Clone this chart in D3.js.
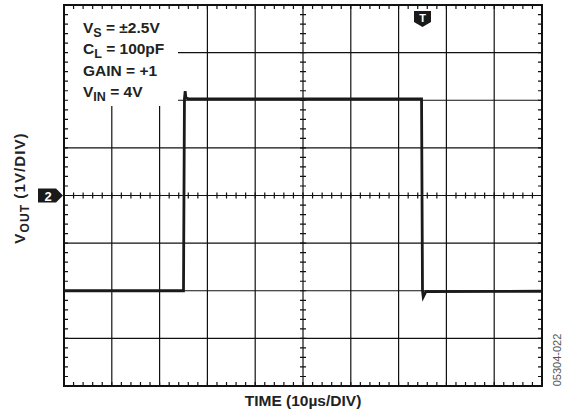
<!DOCTYPE html>
<html>
<head>
<meta charset="utf-8">
<script src="https://cdn.jsdelivr.net/npm/d3@7"></script>
<style>
  body { margin: 0; background: #fff; }
  svg { display: block; font-family: "Liberation Sans", Arial, sans-serif; }
</style>
</head>
<body>
<svg id="chart" width="569" height="414"></svg>
<script>
// scope trace, time in us, output in volts
var timeUs = [0, 25.0, 25.2, 25.35, 25.5, 26.0, 74.8, 75.0, 75.15, 75.7, 100];
var voutV  = [-2.0, -2.0, 2.03, 2.19, 2.05, 2.03, 2.03, -2.0, -2.13, -2.02, -2.01];

var timeDomain = [0, 100];   // 10 divisions of 10us
var voltDomain = [-4, 4];    // 8 divisions of 1V
var triggerTime = 75;

var notes = [
	[ { t: "V" }, { t: "S", sub: true }, { t: " = \u00b12.5V" } ],
	[ { t: "C" }, { t: "L", sub: true }, { t: " = 100pF" } ],
	[ { t: "GAIN = +1" } ],
	[ { t: "V" }, { t: "IN", sub: true }, { t: " = 4V" } ]
];

var svg = d3.select("#chart");
var x = d3.scaleLinear().domain(timeDomain).range([64, 542]);
var y = d3.scaleLinear().domain(voltDomain).range([386, 5]);

var majorX = d3.range(timeDomain[0], timeDomain[1] + 0.01, 10);
var majorY = d3.range(voltDomain[0], voltDomain[1] + 0.01, 1);
var minorX = d3.range(timeDomain[0], timeDomain[1] + 0.01, 2);
var minorY = d3.range(voltDomain[0], voltDomain[1] + 0.01, 0.2);

var grid = svg.append("g").attr("stroke", "#111").attr("stroke-width", 1.2);
grid.selectAll(".vx").data(majorX.slice(1, -1)).enter().append("line")
	.attr("x1", function(d) { return x(d); }).attr("x2", function(d) { return x(d); })
	.attr("y1", y(4)).attr("y2", y(-4));
grid.selectAll(".hy").data(majorY.slice(1, -1)).enter().append("line")
	.attr("y1", function(d) { return y(d); }).attr("y2", function(d) { return y(d); })
	.attr("x1", x(0)).attr("x2", x(100));

// white box behind the conditions text
svg.append("rect").attr("x", x(0) + 1).attr("y", y(4) + 1)
	.attr("width", 113).attr("height", 100).attr("fill", "#fff");

// minor ticks on the frame and on the centre cross
var ticks = svg.append("g").attr("stroke", "#111").attr("stroke-width", 1.2);
var tl = 4;
ticks.selectAll(".tt").data(minorX).enter().append("path")
	.attr("d", function(d) {
		var px = x(d);
		return "M" + px + "," + y(4) + "v" + tl + "M" + px + "," + y(-4) + "v" + (-tl) +
			"M" + px + "," + (y(0) - 3) + "v6";
	});
ticks.selectAll(".ty").data(minorY).enter().append("path")
	.attr("d", function(d) {
		var py = y(d);
		return "M" + x(0) + "," + py + "h" + tl + "M" + x(100) + "," + py + "h" + (-tl) +
			"M" + (x(50) - 3) + "," + py + "h6";
	});

svg.append("rect").attr("x", x(0)).attr("y", y(4))
	.attr("width", x(100) - x(0)).attr("height", y(-4) - y(4))
	.attr("fill", "none").attr("stroke", "#111").attr("stroke-width", 2);

// trace
var line = d3.line()
	.x(function(d, i) { return x(timeUs[i]); })
	.y(function(d) { return y(d); });
svg.append("path").datum(voutV).attr("d", line)
	.attr("fill", "none").attr("stroke", "#1a1a1a").attr("stroke-width", 2.8)
	.attr("stroke-linejoin", "miter");

// conditions text
var txt = svg.append("g").attr("font-weight", "bold").attr("font-size", 15.5).attr("fill", "#222");
notes.forEach(function(parts, i) {
	var t = txt.append("text").attr("x", 83).attr("y", 33 + i * 21.3);
	parts.forEach(function(p) {
		var s = t.append("tspan").text(p.t);
		if (p.sub) s.attr("font-size", 12.5).attr("dy", 4);
		else if (s.node().previousSibling) s.attr("dy", -4);
	});
});

// trigger marker
var tx = x(triggerTime);
svg.append("path")
	.attr("d", "M" + (tx - 8.5) + ",11h17v11l-8.5,5l-8.5,-5z").attr("fill", "#1a1a1a");
svg.append("text").attr("x", tx).attr("y", 22).attr("text-anchor", "middle")
	.attr("font-size", 11).attr("font-weight", "bold").attr("fill", "#fff").text("T");

// channel marker
var cy = y(0);
svg.append("path")
	.attr("d", "M38," + (cy - 7) + "h18l7,7l-7,7h-18z").attr("fill", "#1a1a1a");
svg.append("text").attr("x", 48).attr("y", cy + 5).attr("text-anchor", "middle")
	.attr("font-size", 13).attr("font-weight", "bold").attr("fill", "#fff").text("2");

// axis titles
var yl = svg.append("text").attr("transform", "translate(25,188) rotate(-90)")
	.attr("text-anchor", "middle").attr("font-size", 15).attr("font-weight", "bold")
	.attr("letter-spacing", 1.1).attr("fill", "#222");
yl.append("tspan").text("V");
yl.append("tspan").text("OUT").attr("font-size", 12).attr("dy", 3.5);
yl.append("tspan").text(" (1V/DIV)").attr("dy", -3.5);

svg.append("text").attr("x", 303).attr("y", 406).attr("text-anchor", "middle")
	.attr("font-size", 15.5).attr("font-weight", "bold").attr("fill", "#222")
	.text("TIME (10\u00b5s/DIV)");

svg.append("text").attr("transform", "translate(561,360) rotate(-90)")
	.attr("text-anchor", "middle").attr("font-size", 11).attr("fill", "#555")
	.text("05304-022");
</script>
</body>
</html>
